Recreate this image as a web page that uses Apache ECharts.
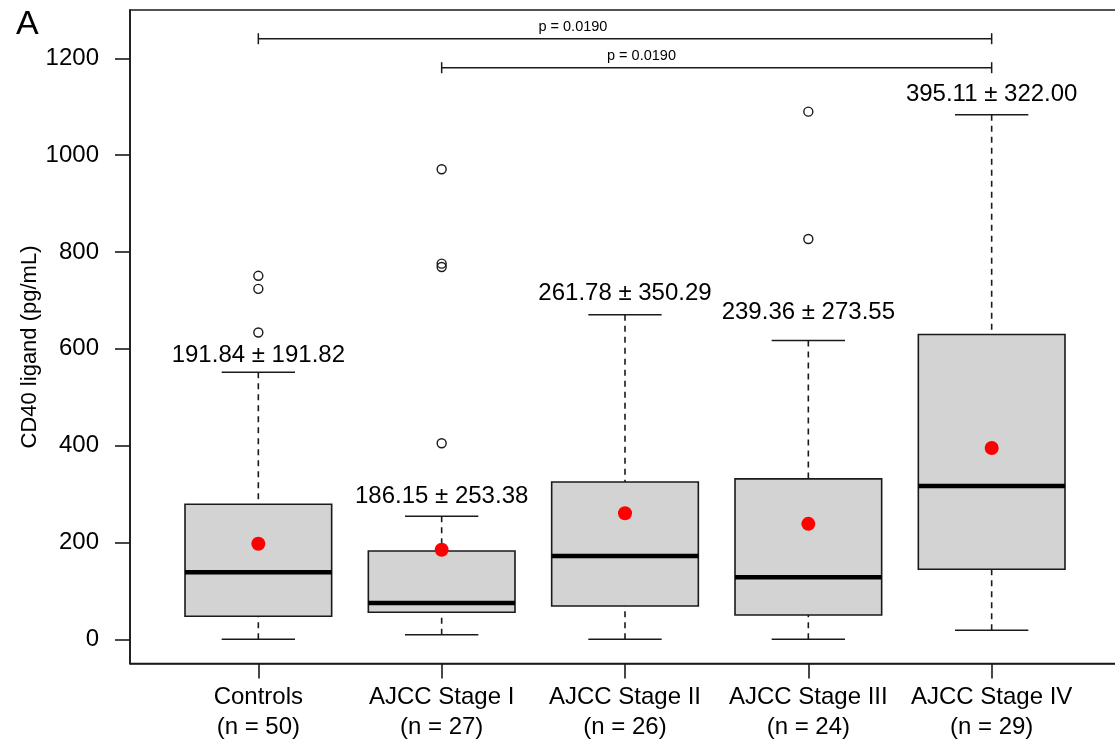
<!DOCTYPE html>
<html><head><meta charset="utf-8">
<script src="https://cdn.jsdelivr.net/npm/echarts@6/dist/echarts.min.js"></script>
<style>html,body{margin:0;padding:0;background:#fff}#c{width:1115px;height:745px}</style>
</head><body><div id="c"></div>
<script>
// ---- data ----
const categories = ['Controls', 'AJCC Stage I', 'AJCC Stage II', 'AJCC Stage III', 'AJCC Stage IV'];
const groupSizes = [50, 27, 26, 24, 29];
const whiskerLow = [0, 9.5, 0, 0, 18.6];
const quartile1 = [47.5, 55.8, 68.8, 50.2, 144.7];
const medians = [138.5, 75, 172.2, 128, 316.9];
const quartile3 = [279, 182.5, 325, 331.3, 629.6];
const whiskerHigh = [551.8, 254.2, 670.3, 617.3, 1083.6];
const meanValues = [191.84, 186.15, 261.78, 239.36, 395.11];
const sdValues = [191.82, 253.38, 350.29, 273.55, 322.00];
const meanMarks = [197.5, 185, 260.5, 238.5, 395.3];
const outlierValues = [[750.9, 724, 633.7], [971, 776, 769, 405], [], [1090, 827], []];
const statLabelY = [586.6, 294.7, 713.7, 674.4, 1125.6];
const yTickValues = [0, 200, 400, 600, 800, 1000, 1200];
const compFrom = [1, 2];
const compTo = [5, 5];
const compY = [1240.7, 1180.8];
const compP = ['0.0190', '0.0190'];
const compTextX = [2.716, 3.09];

// ---- build ----
const FONT = '"Liberation Sans", Arial, sans-serif';
const INK = '#1a1a1a';
const TXT = '#000';
const xs = categories.map((_, i) => i + 1);
const boxData = xs.map((x, i) => [x, whiskerLow[i], quartile1[i], medians[i], quartile3[i], whiskerHigh[i]]);
const outlierData = [];
outlierValues.forEach((arr, i) => arr.forEach(v => outlierData.push([i + 1, v])));
const meanData = xs.map((x, i) => [x, meanMarks[i]]);
const labelData = xs.map((x, i) => [x, statLabelY[i], i]);
const compData = compFrom.map((f, i) => [f, compTo[i], compY[i], compTextX[i], i]);

function renderBox(params, api) {
  const x = api.value(0), lo = api.value(1), q1 = api.value(2), md = api.value(3), q3 = api.value(4), hi = api.value(5);
  const c = (a, b) => api.coord([a, b]);
  const solid = { stroke: INK, lineWidth: 1.6, fill: null };
  const dash = { stroke: INK, lineWidth: 1.6, lineDash: [6, 5], fill: null };
  const line = (p1, p2, st) => ({ type: 'line', shape: { x1: p1[0], y1: p1[1], x2: p2[0], y2: p2[1] }, style: st });
  const tl = c(x - 0.4, q3), br = c(x + 0.4, q1);
  return {
    type: 'group',
    children: [
      line(c(x, hi), c(x, q3), dash),
      line(c(x, lo), c(x, q1), dash),
      line(c(x - 0.2, hi), c(x + 0.2, hi), solid),
      line(c(x - 0.2, lo), c(x + 0.2, lo), solid),
      { type: 'rect', shape: { x: tl[0], y: tl[1], width: br[0] - tl[0], height: br[1] - tl[1] },
        style: { fill: '#d3d3d3', stroke: INK, lineWidth: 1.6 } },
      line(c(x - 0.4, md), c(x + 0.4, md), { stroke: '#000', lineWidth: 4.5 })
    ]
  };
}

function renderLabel(params, api) {
  const i = api.value(2);
  const p = api.coord([api.value(0), api.value(1)]);
  return { type: 'text', x: p[0], y: p[1],
    style: { text: meanValues[i].toFixed(2) + ' \u00b1 ' + sdValues[i].toFixed(2),
      fontSize: 24, fontFamily: FONT, fill: TXT, align: 'center', verticalAlign: 'middle' } };
}

function renderComp(params, api) {
  const a = api.coord([api.value(0), api.value(2)]);
  const b = api.coord([api.value(1), api.value(2)]);
  const t = api.coord([api.value(3), api.value(2)]);
  const i = api.value(4);
  const st = { stroke: INK, lineWidth: 1.5 };
  return { type: 'group', children: [
    { type: 'line', shape: { x1: a[0], y1: a[1], x2: b[0], y2: b[1] }, style: st },
    { type: 'line', shape: { x1: a[0], y1: a[1] - 5.5, x2: a[0], y2: a[1] + 5.5 }, style: st },
    { type: 'line', shape: { x1: b[0], y1: b[1] - 5.5, x2: b[0], y2: b[1] + 5.5 }, style: st },
    { type: 'text', x: t[0], y: t[1] - 12,
      style: { text: 'p = ' + compP[i], fontSize: 14.5, fontFamily: FONT, fill: TXT, align: 'center', verticalAlign: 'middle' } }
  ] };
}

const chart = echarts.init(document.getElementById('c'), null, { renderer: 'canvas' });
chart.setOption({
  animation: false,
  backgroundColor: '#fff',
  grid: { left: 130, top: 10, bottom: 81.5, right: -5, show: true, borderColor: INK, borderWidth: 1.6,
    containLabel: false, outerBoundsMode: 'none' },
  xAxis: {
    type: 'value', min: 0.3, max: 5.7,
    splitLine: { show: false },
    axisLine: { show: true, onZero: false, lineStyle: { color: INK, width: 1.6 } },
    axisTick: { show: true, length: 15, customValues: xs, lineStyle: { color: INK, width: 1.6 } },
    axisLabel: { show: true, customValues: xs, margin: 18.5, color: TXT, fontSize: 24, fontFamily: FONT, lineHeight: 30,
      formatter: v => categories[Math.round(v) - 1] + '\n(n = ' + groupSizes[Math.round(v) - 1] + ')' }
  },
  yAxis: {
    type: 'value', min: -50, max: 1300,
    splitLine: { show: false },
    axisLine: { show: true, onZero: false, lineStyle: { color: INK, width: 1.6 } },
    axisTick: { show: true, length: 15, customValues: yTickValues, lineStyle: { color: INK, width: 1.6 } },
    axisLabel: { show: true, customValues: yTickValues, margin: 31, color: TXT, fontSize: 24, fontFamily: FONT,
      formatter: v => String(v) }
  },
  graphic: [
    { type: 'text', x: 16, y: 8, style: { text: 'A', fontSize: 34, fontFamily: FONT, fill: '#000', align: 'left', verticalAlign: 'top' } },
    { type: 'text', x: 30, y: 347, rotation: Math.PI / 2,
      style: { text: 'CD40 ligand (pg/mL)', fontSize: 22, fontFamily: FONT, fill: TXT, align: 'center', verticalAlign: 'middle' } }
  ],
  series: [
    { type: 'custom', renderItem: renderBox, data: boxData, encode: { x: 0, y: [1, 2, 3, 4, 5] }, z: 2 },
    { type: 'scatter', data: outlierData, symbol: 'circle', symbolSize: 9,
      itemStyle: { color: 'rgba(0,0,0,0)', borderColor: INK, borderWidth: 1.4, opacity: 1 }, z: 3 },
    { type: 'scatter', data: meanData, symbol: 'circle', symbolSize: 14, itemStyle: { color: '#ff0000', opacity: 1 }, z: 4 },
    { type: 'custom', renderItem: renderLabel, data: labelData, encode: { x: 0, y: 1 }, z: 5 },
    { type: 'custom', renderItem: renderComp, data: compData, encode: { x: [0, 1], y: 2 }, z: 5 }
  ]
});
</script></body></html>
